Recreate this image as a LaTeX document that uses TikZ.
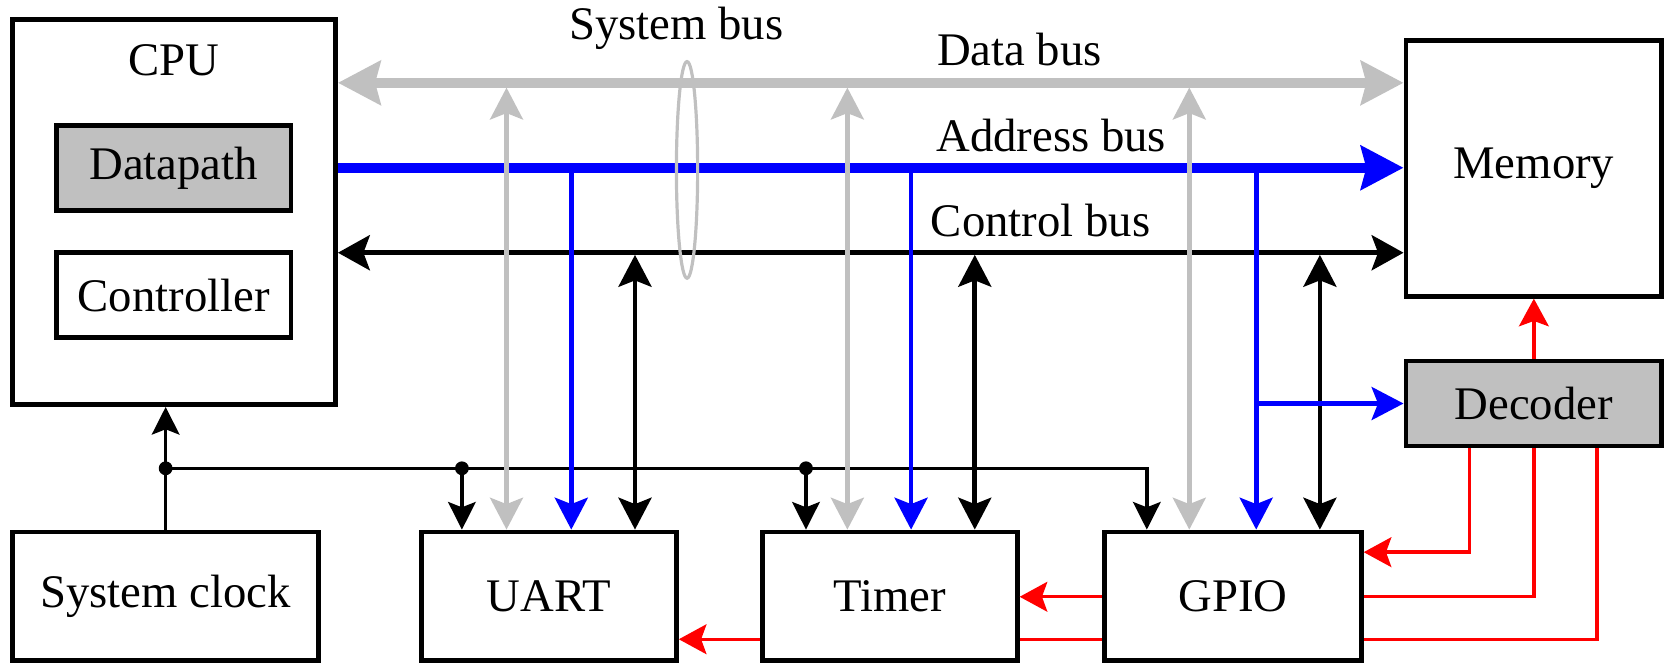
\documentclass[tikz,border=0pt]{standalone}
\usepackage{fontspec}
\setmainfont{Liberation Serif}
\usetikzlibrary{arrows.meta}
\definecolor{bgray}{RGB}{192,192,192}
\definecolor{bblue}{RGB}{0,0,255}
\definecolor{bred}{RGB}{255,0,0}
\tikzset{
  gT/.tip={Stealth[length=40pt,width=41pt,inset=5pt]},
  cT/.tip={Stealth[length=30pt,width=33pt,inset=6pt]},
  vT/.tip={Stealth[length=30pt,width=31pt,inset=6pt]},
  kT/.tip={Stealth[length=26pt,width=26pt,inset=5pt]},
  rT/.tip={Stealth[length=26pt,width=28pt,inset=5pt]},
  blk/.style={draw, line width=4.5pt, fill=white, inner sep=0pt},
  gbus/.style={draw=bgray, line width=9pt},
  abus/.style={draw=bblue, line width=9pt},
  cbus/.style={draw=black, line width=4.5pt},
  gvert/.style={draw=bgray, line width=4.2pt},
  bvert/.style={draw=bblue, line width=4.5pt},
  cvert/.style={draw=black, line width=4.5pt},
  clkline/.style={draw=black, line width=3.2pt},
  rline/.style={draw=bred, line width=3.2pt},
  jdot/.style={fill=black}
}
\begin{document}
\begin{tikzpicture}[x=1pt,y=-1pt,font=\fontsize{44}{50}\selectfont]
\useasboundingbox (0,0) rectangle (1568,624);

% boxes
\node[blk, minimum width=304pt, minimum height=363pt] (cpu) at (164,199.5) {};
\node (cpulbl) at (164,57) {CPU};
\node[blk, fill=bgray, minimum width=221pt, minimum height=80pt] (dp) at (163.5,158) {Datapath};
\node[blk, minimum width=221pt, minimum height=80pt] (ctrl) at (163.5,278) {Controller};
\node[blk, minimum width=288pt, minimum height=121pt] (clk) at (156,561.5) {System clock};
\node[blk, minimum width=240pt, minimum height=121pt] (uart) at (517,561.5) {UART};
\node[blk, minimum width=240pt, minimum height=121pt] (timer) at (838,561.5) {Timer};
\node[blk, minimum width=242pt, minimum height=121pt] (gpio) at (1161,561.5) {GPIO};
\node[blk, minimum width=241pt, minimum height=241pt] (mem) at (1444.5,158.5) {Memory};
\node[blk, fill=bgray, minimum width=241pt, minimum height=80pt] (dec) at (1444.5,380) {Decoder};

% labels
\node (sbl) at (637,27) {System bus};
\node (dbl) at (960,47) {Data bus};
\node (abl) at (990,128) {Address bus};
\node (cbl) at (980,208) {Control bus};

% reference coordinates
\coordinate (yD) at (0,78);
\coordinate (yA) at (0,158);
\coordinate (yC) at (0,238);
\coordinate (yK) at (0,441);
\coordinate (uk) at (435,0);
\coordinate (ug) at (477,0);
\coordinate (ub) at (538,0);
\coordinate (uc) at (598,0);
\coordinate (tk) at (759,0);
\coordinate (tg) at (798,0);
\coordinate (tb) at (858,0);
\coordinate (tc) at (918,0);
\coordinate (gk) at (1080,0);
\coordinate (gg) at (1120,0);
\coordinate (gb) at (1183,0);
\coordinate (gc) at (1243,0);
\coordinate (r1) at (1384,520);
\coordinate (r2) at (1444.5,562);
\coordinate (r3) at (1504,602);

% clock network
\draw[clkline, -kT] (clk.north) -- (clk.north |- cpu.south);
\draw[clkline, -kT] (clk.north |- yK) -| (gk |- gpio.north);
\draw[clkline, -kT] (uk |- yK) -- (uk |- uart.north);
\draw[clkline, -kT] (tk |- yK) -- (tk |- timer.north);
\fill[jdot] (clk.north |- yK) circle (6.5pt);
\fill[jdot] (uk |- yK) circle (6.5pt);
\fill[jdot] (tk |- yK) circle (6.5pt);

% buses
\draw[gbus, gT-gT] (cpu.east |- yD) -- (mem.west |- yD);
\draw[abus, -gT] (cpu.east |- yA) -- (mem.west |- yA);
\draw[cbus, cT-cT] (cpu.east |- yC) -- (mem.west |- yC);

% system bus ellipse
\draw[bgray, line width=3pt] (647,160) ellipse [x radius=10pt, y radius=102pt];

% control verticals
\draw[cvert, vT-vT, shorten <=2pt] (yC -| uc) -- (uc |- uart.north);
\draw[cvert, vT-vT, shorten <=2pt] (yC -| tc) -- (tc |- timer.north);
\draw[cvert, vT-vT, shorten <=2pt] (yC -| gc) -- (gc |- gpio.north);

% address verticals
\draw[bvert, -vT] (yA -| ub) -- (ub |- uart.north);
\draw[bvert, -vT] (yA -| tb) -- (tb |- timer.north);
\draw[bvert, -vT] (yA -| gb) -- (gb |- gpio.north);
\draw[bvert, -vT] (gb |- dec.west) -- (dec.west);

% data verticals
\draw[gvert, vT-vT, shorten <=4.5pt] (yD -| ug) -- (ug |- uart.north);
\draw[gvert, vT-vT, shorten <=4.5pt] (yD -| tg) -- (tg |- timer.north);
\draw[gvert, vT-vT, shorten <=4.5pt] (yD -| gg) -- (gg |- gpio.north);

% decoder select lines
\draw[rline, -rT] (dec.north) -- (mem.south);
\draw[rline, -rT] (dec.south -| r1) |- (gpio.east |- r1);
\draw[rline] (dec.south -| r2) |- (gpio.east |- r2);
\draw[rline, -rT] (gpio.west |- r2) -- (timer.east |- r2);
\draw[rline] (dec.south -| r3) |- (gpio.east |- r3);
\draw[rline] (gpio.west |- r3) -- (timer.east |- r3);
\draw[rline, -rT] (timer.west |- r3) -- (uart.east |- r3);
\end{tikzpicture}
\end{document}
